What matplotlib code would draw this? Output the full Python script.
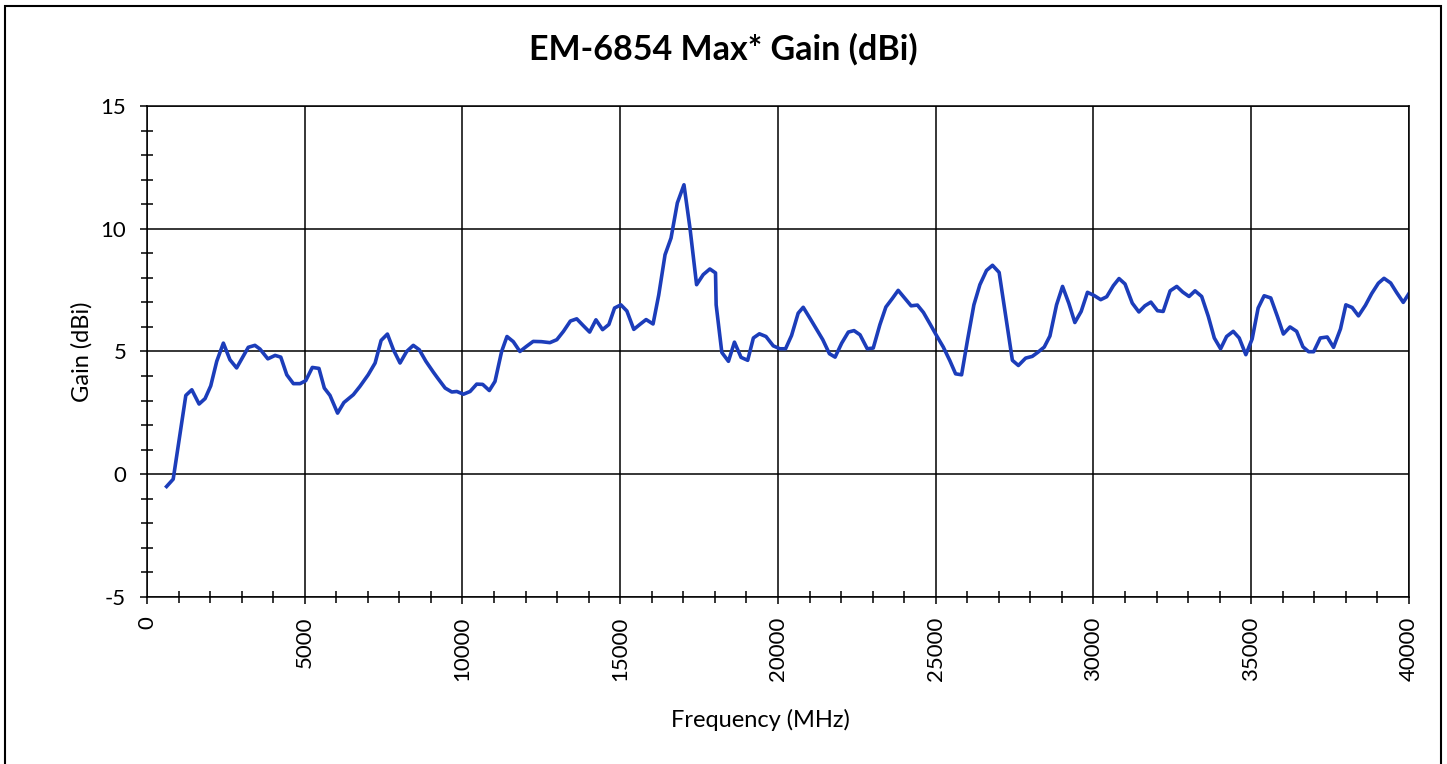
import matplotlib.pyplot as plt
from matplotlib.patches import Rectangle
from matplotlib.ticker import MultipleLocator

# frequency (MHz) and max gain (dBi)
freq = [620, 830, 1230, 1420, 1650, 1840, 2020, 2210, 2420, 2630, 2840, 3210,
        3420, 3580, 3830, 4060, 4240, 4430, 4640, 4850, 5030, 5240, 5450, 5620,
        5800, 6040, 6240, 6540, 6750, 7010, 7230, 7420, 7620, 7810, 8020, 8230,
        8440, 8630, 8840, 9080, 9210, 9450, 9660, 9820, 10030, 10240, 10450,
        10640, 10850, 11030, 11240, 11410, 11610, 11820, 12030, 12240, 12500,
        12770, 12990, 13200, 13420, 13620, 13830, 14030, 14230, 14440, 14640,
        14820, 15020, 15210, 15430, 15630, 15820, 16040, 16220, 16420, 16610,
        16810, 17020, 17210, 17420, 17630, 17840, 18020, 18040, 18220, 18430,
        18620, 18830, 19040, 19220, 19410, 19620, 19850, 20060, 20240, 20430,
        20640, 20800, 21010, 21230, 21420, 21630, 21810, 22020, 22230, 22410,
        22600, 22830, 23020, 23230, 23420, 23620, 23810, 24000, 24220, 24420,
        24610, 24820, 25030, 25240, 25450, 25630, 25820, 26010, 26210, 26400,
        26610, 26800, 27010, 27230, 27430, 27620, 27850, 28060, 28230, 28440,
        28620, 28830, 29020, 29220, 29410, 29610, 29810, 30020, 30230, 30420,
        30630, 30810, 31000, 31230, 31440, 31630, 31820, 32030, 32210, 32430,
        32640, 32830, 33030, 33220, 33430, 33640, 33830, 34030, 34220, 34430,
        34620, 34830, 35030, 35220, 35410, 35620, 35830, 36020, 36230, 36440,
        36640, 36820, 36980, 37190, 37410, 37610, 37830, 38000, 38200, 38400,
        38620, 38820, 39030, 39210, 39420, 39610, 39820, 40000]
gain = [-0.50, -0.20, 3.21, 3.44, 2.86, 3.08, 3.60, 4.60, 5.34, 4.66, 4.33, 5.17,
        5.25, 5.10, 4.70, 4.84, 4.77, 4.05, 3.69, 3.69, 3.81, 4.35, 4.31, 3.51,
        3.21, 2.49, 2.92, 3.24, 3.58, 4.05, 4.53, 5.45, 5.71, 5.07, 4.53, 5.00,
        5.25, 5.07, 4.60, 4.15, 3.92, 3.51, 3.35, 3.37, 3.26, 3.37, 3.67,
        3.66, 3.41, 3.78, 5.00, 5.61, 5.40, 5.00, 5.21, 5.41, 5.40,
        5.36, 5.48, 5.82, 6.24, 6.33, 6.05, 5.79, 6.29, 5.89, 6.10,
        6.77, 6.90, 6.65, 5.90, 6.11, 6.30, 6.12, 7.30, 8.94, 9.62,
        11.05, 11.79, 10.03, 7.72, 8.13, 8.36, 8.20, 6.90, 4.96, 4.60,
        5.38, 4.76, 4.64, 5.55, 5.72, 5.61, 5.23, 5.11, 5.11, 5.65,
        6.56, 6.80, 6.36, 5.89, 5.48, 4.91, 4.77, 5.34, 5.79, 5.85,
        5.68, 5.11, 5.14, 6.09, 6.81, 7.15, 7.49, 7.20, 6.86, 6.89,
        6.59, 6.12, 5.64, 5.18, 4.62, 4.09, 4.05, 5.48, 6.90, 7.72,
        8.30, 8.51, 8.22, 6.36, 4.64, 4.43, 4.73, 4.80, 4.96, 5.18,
        5.63, 6.90, 7.65, 6.96, 6.18, 6.63, 7.41, 7.28, 7.11, 7.23,
        7.68, 7.97, 7.75, 6.97, 6.61, 6.86, 7.01, 6.66, 6.63, 7.47,
        7.65, 7.42, 7.24, 7.47, 7.24, 6.43, 5.55, 5.11, 5.61, 5.82,
        5.55, 4.87, 5.51, 6.77, 7.27, 7.18, 6.43, 5.71, 6.00, 5.82,
        5.19, 4.99, 4.99, 5.55, 5.59, 5.17, 5.92, 6.90, 6.79, 6.45,
        6.88, 7.36, 7.78, 7.98, 7.79, 7.40, 7.00, 7.36]

plt.rcParams['font.family'] = ['Lato', 'DejaVu Sans']
plt.rcParams['axes.unicode_minus'] = False

fig = plt.figure(figsize=(14.47, 7.64), dpi=100)
ax = fig.add_axes([0.1016, 0.2186, 0.8721, 0.6427])

ax.plot(freq, gain, color='#1c3dba', linewidth=2.6)

ax.set_xlim(0, 40000)
ax.set_ylim(-5, 15)
ax.xaxis.set_major_locator(MultipleLocator(5000))
ax.xaxis.set_minor_locator(MultipleLocator(1000))
ax.yaxis.set_major_locator(MultipleLocator(5))
ax.yaxis.set_minor_locator(MultipleLocator(1))
ax.grid(which='major', color='black', linewidth=1.1)
ax.tick_params(which='major', direction='out', length=5, width=1.1, labelsize=16)
ax.tick_params(axis='y', which='major', pad=10)
ax.tick_params(axis='x', which='major', pad=9, labelrotation=90)
ax.tick_params(which='minor', direction='inout', length=8, width=1.1)
for s in ax.spines.values():
    s.set_linewidth(1.1)

ax.set_xlabel('Frequency (MHz)', fontsize=17)
ax.set_ylabel('Gain (dBi)', fontsize=17)
ax.xaxis.set_label_coords(0.486, -0.227)
ax.yaxis.set_label_coords(-0.0435, 0.5)
fig.text(0.5, 0.935, 'EM-6854 Max* Gain (dBi)', ha='center', va='center',
         fontsize=24.5, fontweight='bold')

fig.patches.append(Rectangle((0.0035, -0.05), 0.9925, 1.042, transform=fig.transFigure,
                             fill=False, edgecolor='black', linewidth=1.5))

fig.savefig('out.png', dpi=100)
